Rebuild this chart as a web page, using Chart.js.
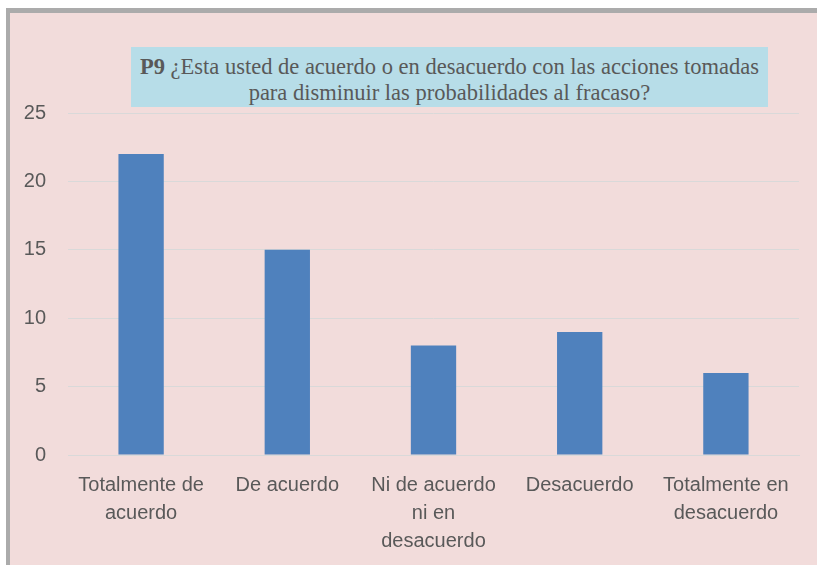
<!DOCTYPE html>
<html>
<head>
<meta charset="utf-8">
<script src="https://cdn.jsdelivr.net/npm/chart.js@4"></script>
<style>
  body { margin: 0; background: #fff; }
  #frame {
    position: absolute; left: 6px; top: 8px; width: 807px; height: 552px;
    background: #f2dcdb; border-left: 4px solid #ababab; border-top: 5px solid #ababab;
  }
  #chart-wrap { position: absolute; left: 0; top: 0; width: 807px; height: 552px; }
  #title-box {
    position: absolute; left: 121px; top: 34px; width: 637px; height: 60px;
    background: #b7dde8; color: #595959; text-align: center; white-space: nowrap;
    font-family: "Liberation Serif", "Times New Roman", serif; font-size: 22.5px; line-height: 26px;
    box-sizing: border-box; padding-top: 7px;
  }
</style>
</head>
<body>
<div id="frame">
  <div id="chart-wrap"><canvas id="myChart" width="807" height="552"></canvas></div>
  <div id="title-box"><b>P9</b> ¿Esta usted de acuerdo o en desacuerdo con las acciones tomadas<br>para disminuir las probabilidades al fracaso?</div>
</div>
<script>
// Chart data
const categories = [
    ['Totalmente de', 'acuerdo'],
    ['De acuerdo'],
    ['Ni de acuerdo', 'ni en', 'desacuerdo'],
    ['Desacuerdo'],
    ['Totalmente en', 'desacuerdo']
];
const answers = [22, 15, 8, 9, 6];
const yTicks = [0, 5, 10, 15, 20, 25];

createChart();

function createChart() {
    const chartEl = document.getElementById('myChart');

    const chartData = {
        labels: categories,
        datasets: [{
            label: 'P9',
            data: answers,
            backgroundColor: '#4f81bd',
            borderWidth: 0,
            barPercentage: 0.31,
            categoryPercentage: 1
        }]
    };

    const config = {
        type: 'bar',
        data: chartData,
        options: {
            responsive: false,
            animation: false,
            layout: { padding: { top: 100, right: 18, left: 0, bottom: 0 } },
            plugins: { legend: { display: false }, tooltip: { enabled: false } },
            scales: {
                x: {
                    grid: { display: false, drawTicks: false },
                    border: { color: '#d9d9d9', width: 1 },
                    ticks: {
                        color: '#595959',
                        font: { family: 'Liberation Sans', size: 20, lineHeight: 1.4 },
                        padding: 16,
                        maxRotation: 0,
                        autoSkip: false
                    },
                    afterFit: axis => { axis.height = 110; }
                },
                y: {
                    min: 0,
                    max: 25,
                    grid: { color: '#d9d9d9', drawTicks: false },
                    border: { display: false },
                    afterBuildTicks: axis => { axis.ticks = yTicks.map(v => ({ value: v })); },
                    ticks: {
                        color: '#595959',
                        font: { family: 'Liberation Sans', size: 20 },
                        padding: 22
                    },
                    afterFit: axis => { axis.width = 58; }
                }
            }
        }
    };

    new Chart(chartEl, config);
}
</script>
</body>
</html>
